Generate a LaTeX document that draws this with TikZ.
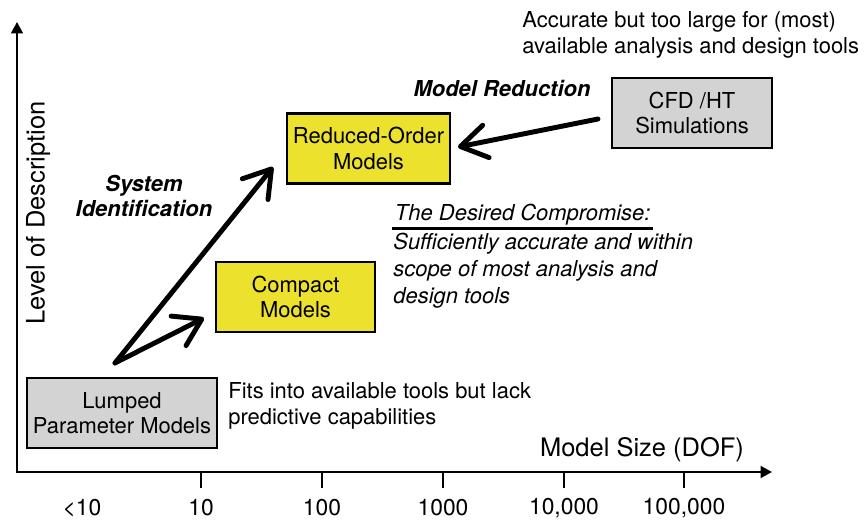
\documentclass[tikz,border=0pt]{standalone}
\usepackage{fontspec}
\setmainfont{TeX Gyre Heros}
\usetikzlibrary{arrows.meta,calc,positioning}

\definecolor{boxyellow}{HTML}{ECE22E}
\definecolor{boxgray}{HTML}{D2D3D2}

\tikzset{
	modelbox/.style={draw=black, line width=1.3pt, align=center, inner sep=0pt,
		minimum height=1.4cm},
	axis/.style={line width=1.1pt, {Triangle[length=2.3mm,width=2.4mm]}-{Triangle[length=2.3mm,width=2.4mm]}},
	flow/.style={line width=2.8pt, line cap=round,
		-{Straight Barb[length=5.2mm,width=6.6mm,round]}},
	note/.style={align=left, anchor=west, inner sep=0pt},
	method/.style={align=center, inner sep=0pt, font=\fontsize{12.5}{14.5}\selectfont\bfseries\itshape},
}

\begin{document}
\begin{tikzpicture}[x=0.02cm, y=-0.02cm,
	every node/.append style={font=\fontsize{12.5}{14.5}\selectfont}]
	\useasboundingbox (0,0) rectangle (865,520);
	
	% axes
	\draw[axis] (17,22) -- (17,472) -- (772,472);
	\node[rotate=90, inner sep=0pt, font=\fontsize{14.5}{16}\selectfont] (ylab) at (38,213) {Level of Description};
	\node[inner sep=0pt, font=\fontsize{14.5}{16}\selectfont] (xlab) at (642,450) {Model Size (DOF)};
	\node[inner sep=0pt, font=\fontsize{13}{15}\selectfont] (tick0) at (82,508) {<10};
	\foreach \x/\lab [count=\i] in {201/10,322/100,443/1000,564/{10,000},684/{100,000}}{
		\draw[line width=1.6pt] (\x,472) -- (\x,488);
		\node[inner sep=0pt, font=\fontsize{13}{15}\selectfont] (tick\i) at (\x,508) {\lab};
	}
	
	% boxes
	\node[modelbox, fill=boxgray, minimum width=3.8cm] (lumped) at (122,413) {Lumped\\Parameter Models};
	\node[modelbox, fill=boxyellow, minimum width=3.18cm] (compact) at (295.5,297) {Compact\\Models};
	\node[modelbox, fill=boxyellow, minimum width=3.26cm] (reduced) at (368.5,148.5) {Reduced-Order\\Models};
	\node[modelbox, fill=boxgray, minimum width=3.2cm] (cfd) at (692,113) {CFD /HT\\Simulations};
	
	% arrows
	\coordinate (fork) at (115,363);
	\coordinate (toreduced) at (273,167);
	\coordinate (tocompact) at (204,318);
	\coordinate (fromcfd) at (598,119);
	\coordinate (intoreduced) at (458,147);
	\draw[flow] (fork) -- (toreduced);
	\draw[flow] (fork) -- (tocompact);
	\draw[flow] (fromcfd) -- (intoreduced);
	
	% labels
	\node[method] (sysid) at (144,196) {System\\Identification};
	\node[method] (modred) at (502,88) {Model Reduction};
	\node[note] (accurate) at (522,35) {Accurate but too large for (most)\\available analysis and design tools};
	\node[note] (fits) at (228,406) {Fits into available tools but lack\\predictive capabilities};
	\node[note, inner sep=1.5pt, font=\fontsize{12.5}{14.5}\selectfont\itshape] (compr) at (392,215) {The Desired Compromise:};
	\draw[line width=1.8pt] (compr.south west) -- (compr.south east);
	\node[note, font=\fontsize{12.5}{15.3}\selectfont\itshape] (comprtext) at (393,271) {Sufficiently accurate and within\\scope of most analysis and\\design tools};
\end{tikzpicture}
\end{document}
